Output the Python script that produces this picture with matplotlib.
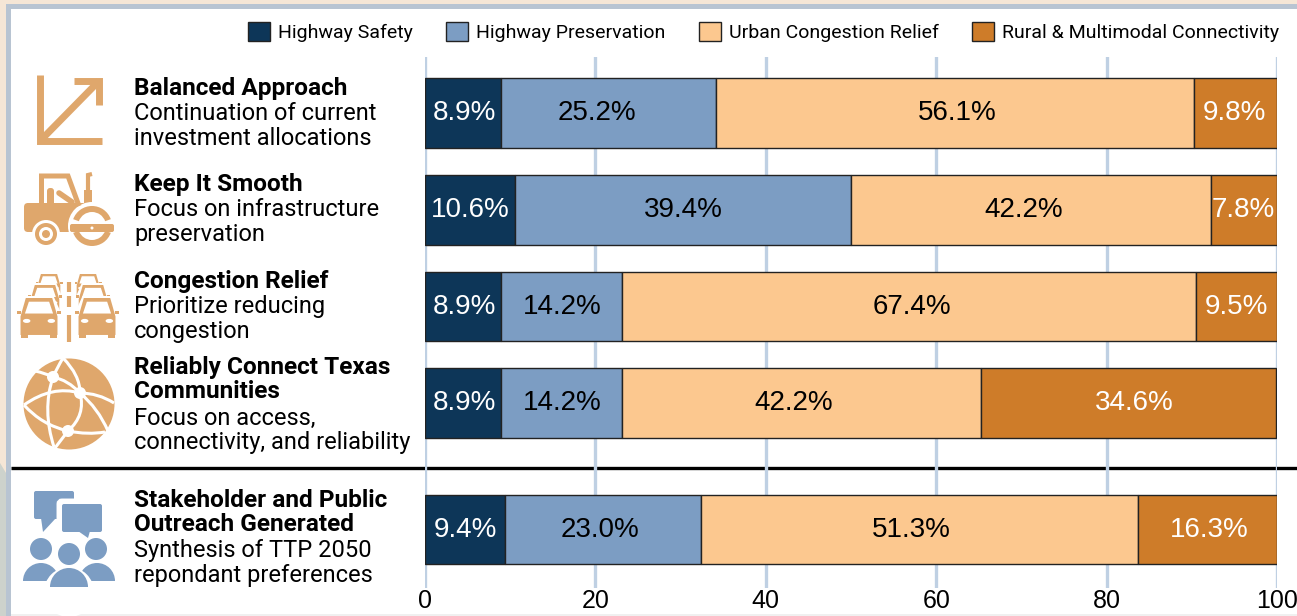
import matplotlib
matplotlib.use('Agg')
import matplotlib.pyplot as plt
from matplotlib.patches import Rectangle, Circle, FancyBboxPatch, Polygon, Ellipse, Wedge, PathPatch
from matplotlib.path import Path

plt.rcParams['font.family'] = ['Roboto', 'DejaVu Sans']

# Data
categories = ['Highway Safety', 'Highway Preservation', 'Urban Congestion Relief', 'Rural & Multimodal Connectivity']
safety = [8.9, 10.6, 8.9, 8.9, 9.4]
preservation = [25.2, 39.4, 14.2, 14.2, 23.0]
congestion = [56.1, 42.2, 67.4, 42.2, 51.3]
rural = [9.8, 7.8, 9.5, 34.6, 16.3]
series = [safety, preservation, congestion, rural]
row_pos = [0, 1, 2, 3, 4.304]
x_ticks = [0, 20, 40, 60, 80, 100]

titles = ['Balanced Approach', 'Keep It Smooth', 'Congestion Relief',
          'Reliably Connect Texas\nCommunities', 'Stakeholder and Public\nOutreach Generated']
subtitles = ['Continuation of current\ninvestment allocations',
             'Focus on infrastructure\npreservation',
             'Prioritize reducing\ncongestion',
             'Focus on access,\nconnectivity, and reliability',
             'Synthesis of TTP 2050\nrepondant preferences']

colors = ['#0D3658', '#7C9DC3', '#FCC88F', '#CE7C29']
label_colors = ['white', 'black', 'black', 'white']
ICON_ORANGE = '#DFA76C'
ICON_BLUE = '#7C9DC3'

# the value labels are not quite centred in the original (pixels, per series and row)
label_nudges = [
    [2, 0, 2, 2, 0],
    [-11, 0, 1, 1, -3],
    [3, -7, 3, -8, -8],
    [-1, -1, 0, 6, 2],
]

W, H = 1297, 616
fig = plt.figure(figsize=(W / 100, H / 100), dpi=100, facecolor='white')

# overlay in pixel coordinates, for the frame, icons and text column
bg = fig.add_axes([0, 0, 1, 1], zorder=0)
bg.set_xlim(0, W)
bg.set_ylim(H, 0)
bg.axis('off')

# page background and frame
bg.add_patch(Rectangle((0, 0), W, 4, color='#F5E6D6', lw=0))
bg.add_patch(Rectangle((0, 0), 6, 473, color='#F5E6D6', lw=0))
bg.add_patch(Polygon([(0, 463), (6, 473), (6, H), (0, H)], color='#CDD2CC', lw=0))
bg.add_patch(Rectangle((6, 4), W, 5, color='#B8C4D2', lw=0))
bg.add_patch(Rectangle((6, 4), 5, H, color='#B8C4D2', lw=0))
bg.add_patch(Rectangle((11, 614), W, 2, color='#F0F0F0', lw=0))
bg.plot([11, W], [468, 468], color='black', lw=2.4, solid_capstyle='butt', zorder=5)

# chart
ax = fig.add_axes([425 / W, 1 - 588 / H, (1277 - 425) / W, (588 - 57) / H], zorder=1)
ax.patch.set_alpha(0)
ax.set_xlim(0, 100)
ax.set_ylim(4.907, -0.577)
ax.grid(axis='x', color='#BFD0E3', lw=2.4)
ax.set_axisbelow(True)
for s in ax.spines.values():
    s.set_visible(False)
ax.set_yticks([])
ax.set_xticks(x_ticks)
ax.tick_params(axis='x', length=0, labelsize=18, pad=1, labelcolor='black')
for lab in ax.get_xticklabels():
    lab.set_clip_on(False)
    lab.set_family('Liberation Sans')

left = [0.0] * len(row_pos)
for vals, col, lab_col, name, nudges in zip(series, colors, label_colors, categories, label_nudges):
    bars = ax.barh(row_pos, vals, left=left, height=0.72, color=col,
                   edgecolor='#222222', linewidth=1, label=name)
    for y, v, l, n in zip(row_pos, vals, left, nudges):
        ax.annotate(f'{v:.1f}%', (l + v / 2, y), xytext=(n * 0.72, 0), textcoords='offset points',
                    ha='center', va='center', color=lab_col, fontsize=20, family='Liberation Sans')
    left = [a + b for a, b in zip(left, vals)]

fig.legend(loc='upper right', bbox_to_anchor=(1285 / W, 1 - 16 / H), ncol=4,
           frameon=False, fontsize=14, handlelength=1.13, handleheight=1.13,
           handletextpad=0.41, columnspacing=1.72, borderpad=0.3, borderaxespad=0)

# text column
title_tops = [77, 173, 270, 356, 489]
LINE = 25
for top, t, sub in zip(title_tops, titles, subtitles):
    n = t.count('\n') + 1
    bg.text(134, top, t, fontsize=17.6, fontweight='bold', va='top', ha='left',
            linespacing=1.07, color='black')
    bg.text(134, top + n * LINE + 0.5, sub, fontsize=17, va='top', ha='left',
            linespacing=1.09, color='black')


def line(xs, ys, color=ICON_ORANGE, lw=5, cap='butt'):
    bg.plot(xs, ys, color=color, lw=lw, solid_capstyle=cap, solid_joinstyle='miter')


# arrow icon
line([39.5, 39.5, 102], [75, 140.5, 140.5])
line([42, 99], [139, 81])
line([74, 98.5, 98.5], [81, 81, 105])

# roller icon
c = ICON_ORANGE
line([41, 41], [205, 176], lw=3.6)
line([39, 68, 79], [176, 176, 206], lw=3.6)
bg.add_patch(FancyBboxPatch((47, 188), 7, 20, boxstyle='round,pad=0,rounding_size=3', color=c, lw=0))
line([59, 72], [193, 202], lw=4, cap='round')
bg.add_patch(Rectangle((84, 190), 8, 16, color=c, lw=0))
line([88, 88, 92], [190, 175, 174], lw=3)
bg.add_patch(FancyBboxPatch((24, 203), 64, 29, boxstyle='round,pad=0,rounding_size=4', color=c, lw=0))
bg.add_patch(Circle((92, 226), 24, color='white', lw=0))
bg.add_patch(Wedge((92, 226), 20, 200, 340, width=6, color=c, lw=0))
bg.add_patch(Wedge((92, 226), 20, 20, 160, width=6, color=c, lw=0))
bg.add_patch(FancyBboxPatch((70, 224), 44, 8, boxstyle='round,pad=0,rounding_size=2', color=c, lw=0))
bg.add_patch(Circle((92, 228), 1.5, color='white', lw=0))
bg.add_patch(Circle((46, 234), 14, color='white', lw=0))
bg.add_patch(Circle((46, 234), 11, color=c, lw=0))
bg.add_patch(Circle((46, 234), 7, color='white', lw=0))
bg.add_patch(Circle((46, 234), 4, color=c, lw=0))


# cars icon
def car(cx, top, w):
    h = w * 0.84
    halo = Polygon([(cx - w * 0.5, top + h + 3), (cx - w * 0.5, top + h * 0.4),
                    (cx - w * 0.33, top - 2), (cx + w * 0.33, top - 2),
                    (cx + w * 0.5, top + h * 0.4), (cx + w * 0.5, top + h + 3)], color='white', lw=0)
    bg.add_patch(halo)
    body = Polygon([(cx - w * 0.42, top + h), (cx - w * 0.42, top + h * 0.5),
                    (cx - w * 0.3, top), (cx + w * 0.3, top),
                    (cx + w * 0.42, top + h * 0.5), (cx + w * 0.42, top + h)], color=c, lw=0)
    bg.add_patch(body)
    glass = Polygon([(cx - w * 0.32, top + h * 0.42), (cx - w * 0.23, top + h * 0.1),
                     (cx + w * 0.23, top + h * 0.1), (cx + w * 0.32, top + h * 0.42)], color='white', lw=0)
    bg.add_patch(glass)
    for side in [-1, 1]:
        bg.add_patch(Rectangle((cx + side * w * 0.45 - w * 0.05, top + h * 0.34), w * 0.1, h * 0.1, color=c, lw=0))
        bg.add_patch(Ellipse((cx + side * w * 0.28, top + h * 0.62), w * 0.17, h * 0.11, color='white', lw=0))
        bg.add_patch(Rectangle((cx + side * w * 0.33 - w * 0.07, top + h * 0.95), w * 0.14, h * 0.12, color=c, lw=0))


for back, mid, front in [(49, 45, 39), (88, 93, 97)]:
    car(back, 274, 27)
    car(mid, 285, 34)
    car(front, 298, 44)
for y0, y1 in [(282, 292), (296, 307), (315, 342)]:
    line([69, 69], [y0, y1], lw=3)

# globe icon
bg.add_patch(Circle((69, 404), 45.5, color=c, lw=0))
globe_curves = [
    [(63, 358), (57, 368), (53, 377)],
    [(35, 371), (45, 373), (53, 377)],
    [(24, 405), (52, 385), (80, 393)],
    [(80, 393), (98, 393), (114, 403)],
    [(24, 405), (42, 425), (68, 431)],
    [(68, 431), (88, 435), (105, 432)],
    [(53, 377), (42, 410), (54, 447)],
    [(63, 358), (80, 375), (80, 393)],
    [(53, 377), (68, 380), (80, 393)],
    [(80, 393), (86, 415), (68, 431)],
    [(80, 393), (98, 408), (108, 431)],
    [(68, 431), (61, 440), (55, 448)],
]
for pts in globe_curves:
    bg.add_patch(PathPatch(Path(pts, [Path.MOVETO, Path.CURVE3, Path.CURVE3]),
                           fc='none', ec='white', lw=2.2))
for p, r in [((53, 377), 6), ((80, 393), 6), ((68, 431), 6)]:
    bg.add_patch(Circle(p, r, color='white', lw=0))

# people icon
b = ICON_BLUE
bg.add_patch(FancyBboxPatch((34, 491), 40, 28, boxstyle='round,pad=0,rounding_size=2', color=b, lw=0))
bg.add_patch(Polygon([(41, 518), (43, 532), (56, 518)], color=b, lw=0))
bg.add_patch(FancyBboxPatch((60, 502), 43, 32, boxstyle='round,pad=0,rounding_size=2', color='white', ec='white', lw=5))
bg.add_patch(FancyBboxPatch((62, 504), 40, 28, boxstyle='round,pad=0,rounding_size=2', color=b, lw=0))
bg.add_patch(Polygon([(78, 531), (88, 538), (90, 531)], color=b, lw=0))
for px, py, r in [(41, 549, 11), (96, 549, 11), (69, 554, 11)]:
    bg.add_patch(Circle((px, py), r, color=b, lw=0))
for x0, x1, base, top_h in [(23, 59, 581, 19), (79, 115, 581, 19)]:
    bg.add_patch(Wedge(((x0 + x1) / 2, base), (x1 - x0) / 2, 180, 360, color=b, lw=0))
bg.add_patch(Circle((69, 592), 25, color='white', lw=0))
bg.add_patch(Wedge((69, 587), 19, 180, 360, color=b, lw=0))
bg.add_patch(Rectangle((50, 586), 38, 1, color=b, lw=0))

fig.savefig('out.png', dpi=100, facecolor='white')
